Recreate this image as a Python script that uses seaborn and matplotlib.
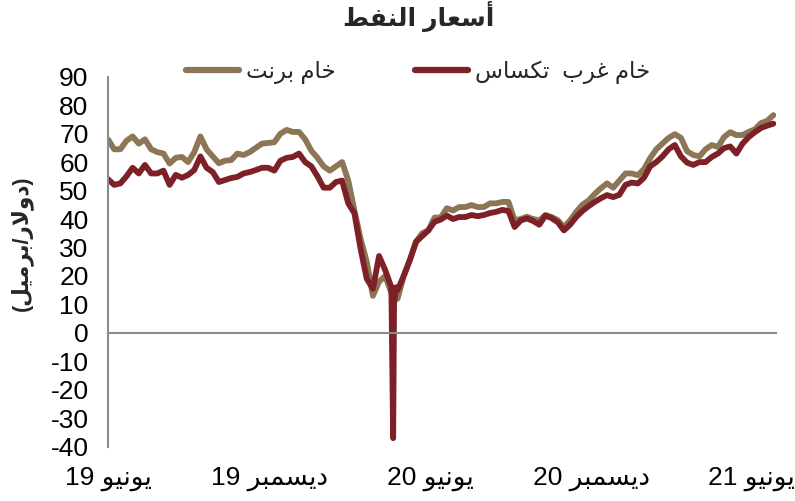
import numpy as np
import pandas as pd
import matplotlib
matplotlib.use("Agg")
import matplotlib.pyplot as plt
from matplotlib.lines import Line2D
import seaborn as sns

# ---------------- data ----------------
start_date = "2019-06-01"   # weekly observations from here
brent = [68, 64.5, 64.5, 67.5, 69, 66.5, 68, 64.5, 63.5, 63,
         59.5, 61.5, 61.8, 60, 63.5, 69, 64.5, 62, 59.6, 60.5,
         60.7, 63, 62.5, 63.5, 65, 66.5, 66.7, 67, 70, 71.3,
         70.6, 70.6, 68, 64, 61.5, 58.5, 57, 58.5, 60, 53.5,
         43, 33, 25, 13, 18, 20, 14, 12, 20, 25.6,
         32, 35, 36, 40.5, 40.5, 43.8, 43, 44.2, 44.2, 44.9,
         44.2, 44.2, 45.5, 45.5, 46, 46, 39.6, 40, 40.8, 40,
         39.5, 41.4, 40.7, 39.6, 37.2, 39.5, 42.5, 45, 46.5, 48.8,
         50.8, 52.5, 51, 53.5, 56, 56, 55.4, 57.5, 61.4, 64.5,
         66.5, 68.5, 69.8, 68.5, 63.8, 62.5, 62, 64.5, 66, 65.3,
         68.8, 70.5, 69.5, 69.5, 70.6, 71.5, 73.7, 74.5, 76.5]
wti = [54, 52, 52.5, 55, 58, 56, 59, 56, 56, 57,
       52, 55.5, 54.5, 55.5, 57.2, 62, 58, 56.5, 53, 53.7,
       54.4, 54.8, 56, 56.5, 57.2, 58, 58, 57, 60.5, 61.5,
       61.8, 63, 60, 58.5, 55, 51, 51, 53, 53.5, 45.5,
       42, 29.5, 19, 15.5, 27, 22, 16, 15, 20, 25.6,
       32, 34, 36, 39, 39.8, 41.2, 40, 40.7, 40.7, 41.4,
       41, 41.4, 42.1, 42.5, 43.2, 42.8, 37.2, 39.5, 40.2, 39.3,
       38, 41.2, 40.3, 38.9, 36, 38, 40.7, 42.8, 44.5, 46,
       47.3, 48.4, 47.7, 48.5, 52, 52.8, 52.5, 54.5, 58.5, 60,
       62, 64.5, 66, 62, 59.8, 59, 60, 60, 61.8, 63,
       64.9, 65.5, 63, 66.5, 68.8, 70.5, 72, 72.8, 73.5]
# daily WTI points around the negative-price day
wti_extra_dates = ["2020-04-20", "2020-04-21", "2020-04-23"]
wti_extra_values = [-37, 10, 16]

tick_dates = ["2019-06-01", "2019-12-01", "2020-06-01", "2020-12-01", "2021-06-01"]
tick_labels = ["يونيو 19", "ديسمبر 19", "يونيو 20", "ديسمبر 20", "يونيو 21"]
y_ticks = list(range(-40, 100, 10))
title_txt = "أسعار النفط"
ylabel_txt = "(دولار/برميل)"
name_brent = "خام برنت"
name_wti = "خام غرب  تكساس"

# ---------------- simple Arabic shaping (presentation forms) ----------------
FORMS = {
    '\u0627': ('\uFE8D', '\uFE8E'), '\u0623': ('\uFE83', '\uFE84'),
    '\u062F': ('\uFEA9', '\uFEAA'), '\u0631': ('\uFEAD', '\uFEAE'),
    '\u0648': ('\uFEED', '\uFEEE'),
    '\u0628': ('\uFE8F', '\uFE90', '\uFE91', '\uFE92'),
    '\u062A': ('\uFE95', '\uFE96', '\uFE97', '\uFE98'),
    '\u062E': ('\uFEA5', '\uFEA6', '\uFEA7', '\uFEA8'),
    '\u0633': ('\uFEB1', '\uFEB2', '\uFEB3', '\uFEB4'),
    '\u0637': ('\uFEC1', '\uFEC2', '\uFEC3', '\uFEC4'),
    '\u0639': ('\uFEC9', '\uFECA', '\uFECB', '\uFECC'),
    '\u063A': ('\uFECD', '\uFECE', '\uFECF', '\uFED0'),
    '\u0641': ('\uFED1', '\uFED2', '\uFED3', '\uFED4'),
    '\u0643': ('\uFED9', '\uFEDA', '\uFEDB', '\uFEDC'),
    '\u0644': ('\uFEDD', '\uFEDE', '\uFEDF', '\uFEE0'),
    '\u0645': ('\uFEE1', '\uFEE2', '\uFEE3', '\uFEE4'),
    '\u0646': ('\uFEE5', '\uFEE6', '\uFEE7', '\uFEE8'),
    '\u064A': ('\uFEF1', '\uFEF2', '\uFEF3', '\uFEF4'),
    'LA': ('\uFEFB', '\uFEFC'), 'LAH': ('\uFEF7', '\uFEF8'),
}


def shape(text):
    toks = []
    i = 0
    while i < len(text):
        c = text[i]
        if c == '\u0644' and i + 1 < len(text) and text[i + 1] in ('\u0627', '\u0623'):
            toks.append('LA' if text[i + 1] == '\u0627' else 'LAH')
            i += 2
            continue
        toks.append(c)
        i += 1
    out = []
    n = len(toks)
    for i, t in enumerate(toks):
        if t not in FORMS:
            out.append(t)
            continue
        f = FORMS[t]
        prev = i > 0 and toks[i - 1] in FORMS and len(FORMS[toks[i - 1]]) == 4
        nxt = len(f) == 4 and i + 1 < n and toks[i + 1] in FORMS
        if prev and nxt:
            out.append(f[3])
        elif prev:
            out.append(f[1])
        elif nxt:
            out.append(f[2])
        else:
            out.append(f[0])
    vis = out[::-1]
    res, run = [], []
    for ch in vis:
        if ch.isdigit():
            run.append(ch)
        else:
            if run:
                res.extend(run[::-1]); run = []
            res.append({'(': ')', ')': '('}.get(ch, ch))
    if run:
        res.extend(run[::-1])
    return ''.join(res)


# ---------------- frame ----------------
dates = pd.date_range(start_date, periods=len(brent), freq="7D")
df_b = pd.DataFrame({"date": dates, "price": brent, "series": "brent"})
df_w = pd.DataFrame({"date": list(dates) + list(pd.to_datetime(wti_extra_dates)),
                     "price": wti + wti_extra_values, "series": "wti"}).sort_values("date")
df = pd.concat([df_b, df_w], ignore_index=True)

# ---------------- style ----------------
sns.set_style("white")
FAM = ["Liberation Sans", "DejaVu Sans"]
plt.rcParams["font.family"] = FAM

c_brent = "#8C7655"
c_wti = "#7D2028"
gray = "#8C8C8C"

fig = plt.figure(figsize=(7.95, 5.01), dpi=100)
ax = fig.add_axes([108 / 795, 1 - 446.7 / 501, 668 / 795, 370 / 501])

sns.lineplot(data=df, x="date", y="price", hue="series", hue_order=["brent", "wti"],
             palette={"brent": c_brent, "wti": c_wti}, linewidth=4.2, ax=ax,
             legend=False, estimator=None, sort=True)
for ln in ax.lines:
    ln.set_solid_joinstyle("round")
    ln.set_solid_capstyle("round")

ax.set_ylim(-40, 90)
ax.set_xlim(pd.Timestamp("2019-06-01"), pd.Timestamp("2021-06-29"))
ax.set_yticks(y_ticks)
ax.set_yticklabels([str(v) for v in y_ticks])
ax.set_xticks(pd.to_datetime(tick_dates))
ax.set_xticklabels([shape(t) for t in tick_labels])

for s in ["top", "right"]:
    ax.spines[s].set_visible(False)
ax.spines["bottom"].set_position(("data", 0))
for s in ["left", "bottom"]:
    ax.spines[s].set_color(gray)
    ax.spines[s].set_linewidth(1.5)

ax.tick_params(axis="y", direction="out", length=6, width=1.5, color=gray,
               labelsize=19, pad=8, labelcolor="black")
ax.tick_params(axis="x", direction="out", length=6.5, width=1.5, color=gray,
               labelsize=19, pad=90, labelcolor="black")
ax.set_xlabel("")
ax.set_ylabel("")

fig.text(22 / 795, 1 - 243 / 501, shape(ylabel_txt), rotation=90, ha="center", va="center",
         fontsize=15.5, fontweight="bold", family=FAM)
fig.text(419 / 795, 1 - 17 / 501, shape(title_txt), ha="center", va="center",
         fontsize=18, fontweight="bold", family=FAM)

handles = [Line2D([0], [0], color=c_brent, lw=4.5, solid_capstyle="round"),
           Line2D([0], [0], color=c_wti, lw=4.5, solid_capstyle="round")]
fig.legend(handles, [shape(name_brent), shape(name_wti)], loc="center",
           bbox_to_anchor=(418 / 795, 1 - 72 / 501), ncol=2, frameon=False,
           fontsize=16.5, handlelength=2.3, handletextpad=0.3, columnspacing=3.5)

fig.savefig("out.png", dpi=100, facecolor="white")
